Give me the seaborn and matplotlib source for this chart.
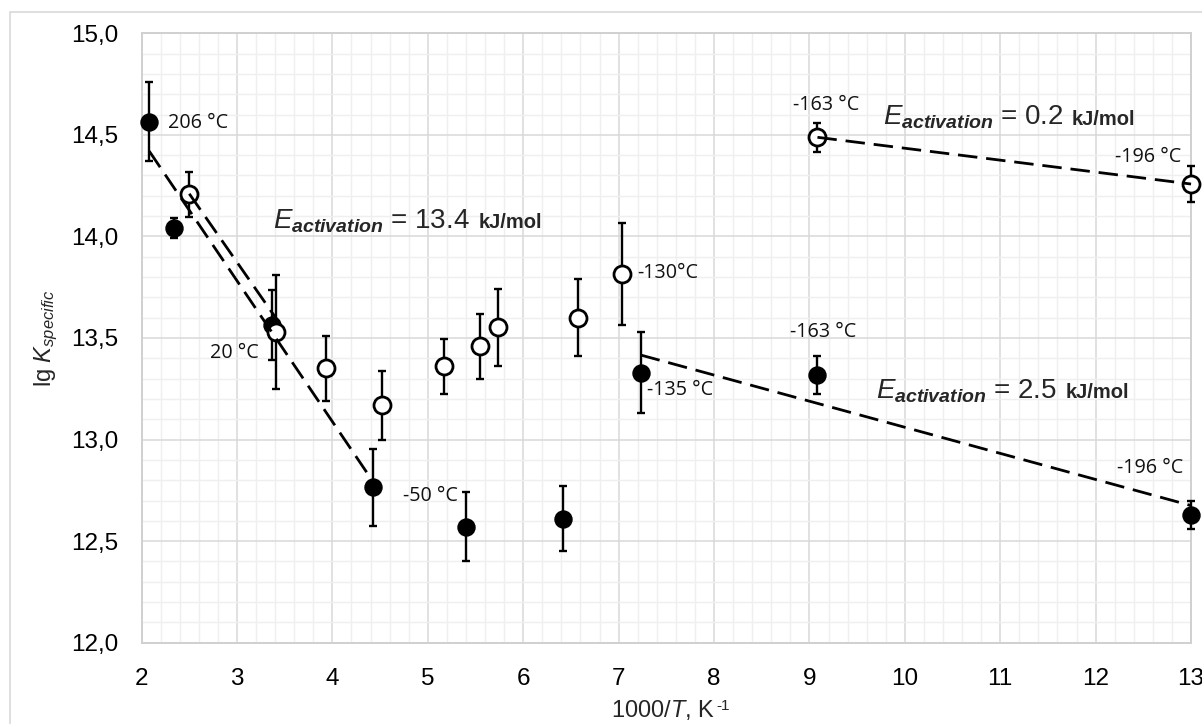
import numpy as np
import pandas as pd
import matplotlib
matplotlib.use("Agg")
import matplotlib.pyplot as plt
from matplotlib.ticker import MultipleLocator, FuncFormatter
from matplotlib.patches import Rectangle
import seaborn as sns

# ---------------- data ----------------
x_filled = [2.08, 2.34, 3.365, 4.43, 5.40, 6.42, 7.233, 9.084, 13.0]
y_filled = [14.565, 14.04, 13.564, 12.765, 12.57, 12.61, 13.329, 13.318, 12.63]
err_filled = [0.195, 0.05, 0.17, 0.19, 0.17, 0.16, 0.20, 0.095, 0.07]

x_open = [2.498, 3.407, 3.93, 4.518, 5.174, 5.548, 5.74, 6.572, 7.033, 9.084, 13.0]
y_open = [14.207, 13.531, 13.35, 13.17, 13.36, 13.46, 13.552, 13.60, 13.815, 14.488, 14.258]
err_open = [0.11, 0.28, 0.16, 0.17, 0.135, 0.16, 0.19, 0.19, 0.25, 0.072, 0.09]

fit1_x = [2.08, 4.43]
fit1_y = [14.42, 12.79]
fit2_x = [2.5, 3.42]
fit2_y = [14.21, 13.59]
fit3_x = [7.233, 13.0]
fit3_y = [13.416, 12.675]
fit4_x = [9.084, 13.0]
fit4_y = [14.488, 14.258]

temp_labels = ["206 °C", "20 °C", "-50 °C", "-130°C", "-135 °C", "-163 °C", "-196 °C", "-163 °C", "-196 °C"]
temp_x = [2.28, 2.72, 4.74, 7.19, 7.295, 9.17, 12.55, 9.14, 12.57]
temp_y = [14.558, 13.427, 12.72, 13.82, 13.244, 14.647, 14.39, 13.53, 12.86]
temp_ha = ["left", "left", "left", "left", "left", "center", "center", "center", "center"]

ea_values = ["13.4", "0.2", "2.5"]
ea_x = [3.38, 9.77, 9.70]
ea_y = [14.04, 14.55, 13.204]

x_ticks = list(range(2, 14))
y_ticks = [12.0, 12.5, 13.0, 13.5, 14.0, 14.5, 15.0]

# ---------------- style ----------------
sns.set_style("white")
plt.rcParams["font.family"] = ["Liberation Sans", "DejaVu Sans"]
plt.rcParams["mathtext.fontset"] = "custom"
plt.rcParams["mathtext.rm"] = "Liberation Sans"
plt.rcParams["mathtext.it"] = "Liberation Sans:italic"
plt.rcParams["mathtext.bf"] = "Liberation Sans:bold"
plt.rcParams["mathtext.bfit"] = "Liberation Sans:bold:italic"

fig = plt.figure(figsize=(12.02, 7.24), dpi=100)
ax = fig.add_axes([0.1178, 0.1123, 0.8731, 0.8417])

# outer chart-area frame (Excel style)
fig.patches.append(Rectangle((10 / 1202, -0.1), 1.2, 1 - 11.7 / 724 + 0.1,
                             transform=fig.transFigure, fill=False,
                             edgecolor="#d9d9d9", lw=1.2, zorder=0))

ax.set_xlim(2, 13)
ax.set_ylim(12.0, 15.0)
ax.set_xticks(x_ticks)
ax.set_yticks(y_ticks)
ax.xaxis.set_minor_locator(MultipleLocator(0.2))
ax.yaxis.set_minor_locator(MultipleLocator(0.1))
ax.yaxis.set_major_formatter(FuncFormatter(lambda v, p: f"{v:.1f}".replace(".", ",")))
ax.grid(which="major", color="#d9d9d9", lw=1.1, zorder=0)
ax.grid(which="minor", color="#efefef", lw=1.0, zorder=0)
ax.set_axisbelow(True)
for s in ax.spines.values():
    s.set_visible(True)
    s.set_color("#d0d0d0")
    s.set_linewidth(1.4)
ax.tick_params(which="both", length=0, labelsize=17.5, colors="black")
ax.tick_params(axis="x", pad=18)
ax.tick_params(axis="y", pad=17)

# error bars
ax.errorbar(x_filled, y_filled, yerr=err_filled, fmt="none", ecolor="black",
            elinewidth=1.7, capsize=3.2, capthick=1.7, zorder=3, clip_on=False)
ax.errorbar(x_open, y_open, yerr=err_open, fmt="none", ecolor="black",
            elinewidth=1.7, capsize=3.2, capthick=1.7, zorder=3, clip_on=False)

# markers
df_f = pd.DataFrame({"x": x_filled, "y": y_filled})
df_o = pd.DataFrame({"x": x_open, "y": y_open})
sns.scatterplot(data=df_f, x="x", y="y", ax=ax, s=150, color="black",
                edgecolor="black", linewidth=1, zorder=4, clip_on=False, legend=False)
sns.scatterplot(data=df_o, x="x", y="y", ax=ax, s=150, color="white",
                edgecolor="black", linewidth=2.0, zorder=4, clip_on=False, legend=False)

# dashed trend lines
for fx, fy in [(fit1_x, fit1_y), (fit2_x, fit2_y), (fit3_x, fit3_y), (fit4_x, fit4_y)]:
    sns.lineplot(x=fx, y=fy, ax=ax, color="black", lw=2.0, zorder=5,
                 estimator=None, sort=False)
for ln in ax.get_lines():
    if len(ln.get_xdata()) == 2 and ln.get_linestyle() == "-":
        ln.set_dashes((7.0, 3.2))
        ln.set_clip_on(False)

ax.set_xlabel("")
ax.set_ylabel("lg $K_{specific}$", fontsize=17, labelpad=8)

# x label with a hyphen superscript
xl = ax.text(0.497, -0.11, "1000/$T$, K", transform=ax.transAxes, fontsize=17,
             ha="center", va="center")
ax.annotate("-1", xy=(1, 1), xycoords=xl, xytext=(0.5, -1.0),
            textcoords="offset points", fontsize=11, ha="left", va="top")

# temperature labels
for lab, tx, ty, ha in zip(temp_labels, temp_x, temp_y, temp_ha):
    ax.text(tx, ty, lab, fontsize=14.2, family=["Open Sans", "DejaVu Sans"],
            ha=ha, va="center", color="#111111", zorder=6)

# activation energy labels
for val, ex, ey in zip(ea_values, ea_x, ea_y):
    t1 = ax.text(ex, ey, r"$E_{\mathbfit{activation}}$" + f" = {val}",
                 fontsize=20, ha="left", va="baseline", zorder=6)
    ax.annotate("kJ/mol", xy=(1, ey), xycoords=(t1, "data"), xytext=(6, 0),
                textcoords="offset points", fontsize=14.5,
                fontweight="bold", ha="left", va="baseline", zorder=6)

fig.savefig("out.png", dpi=100)
